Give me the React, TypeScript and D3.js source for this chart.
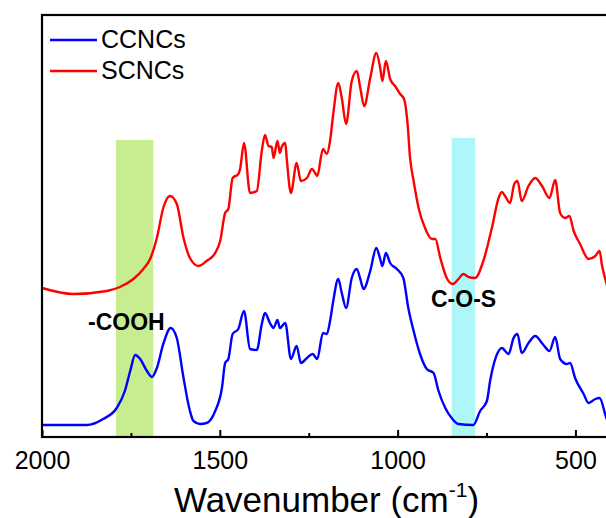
import React, { useEffect, useRef } from "react";
import * as d3 from "d3";

// FTIR spectra, wavenumber (cm-1) vs arbitrary intensity (offset stacked)
const ccncs: [number, number][] = [
  [2000, 12], [1874, 12], [1828, 18], [1790, 29], [1767, 46], [1752, 66], [1738, 82], [1724, 78],
  [1705, 66], [1691, 60], [1677, 69], [1659, 93], [1638, 109], [1621, 99], [1602, 59], [1584, 26],
  [1574, 16], [1556, 13], [1537, 14], [1513, 26], [1494, 49], [1485, 74], [1476, 78], [1464, 103],
  [1448, 108], [1432, 126], [1415, 88], [1396, 87], [1382, 113], [1373, 124], [1359, 114], [1349, 109],
  [1338, 117], [1331, 109], [1316, 114], [1300, 78], [1284, 91], [1272, 74], [1255, 79], [1239, 83],
  [1226, 78], [1210, 104], [1199, 103], [1190, 116], [1181, 136], [1167, 158], [1157, 144], [1145, 129],
  [1129, 159], [1115, 168], [1105, 158], [1096, 148], [1077, 166], [1060, 189], [1049, 178], [1043, 171],
  [1033, 184], [1021, 174], [1002, 168], [984, 159], [970, 129], [955, 106], [937, 83], [918, 68],
  [899, 64], [885, 46], [866, 29], [848, 19], [829, 13], [787, 12], [768, 26], [749, 36],
  [740, 56], [716, 86], [707, 89], [688, 83], [674, 99], [663, 103], [651, 84], [632, 94],
  [613, 101], [592, 93], [573, 86], [557, 100], [543, 78], [524, 73], [515, 74], [501, 59],
  [477, 43], [463, 34], [444, 38], [432, 39], [413, 19], [400, 10],
];

const scncs: [number, number][] = [
  [2000, 149], [1912, 143], [1818, 146], [1781, 150], [1743, 158], [1715, 168], [1696, 178], [1677, 199],
  [1659, 229], [1640, 241], [1621, 233], [1602, 199], [1584, 179], [1560, 171], [1537, 176], [1513, 184],
  [1499, 196], [1485, 224], [1476, 228], [1464, 259], [1448, 263], [1443, 268], [1432, 294], [1415, 244],
  [1396, 246], [1382, 286], [1373, 302], [1363, 291], [1354, 290], [1349, 279], [1338, 296], [1331, 284],
  [1326, 290], [1316, 294], [1312, 279], [1300, 244], [1284, 274], [1272, 256], [1255, 259], [1241, 268],
  [1232, 264], [1226, 261], [1210, 288], [1199, 283], [1190, 296], [1181, 323], [1167, 354], [1157, 339],
  [1145, 313], [1129, 356], [1115, 366], [1105, 349], [1094, 331], [1077, 359], [1060, 384], [1049, 369],
  [1043, 356], [1033, 376], [1021, 358], [1007, 351], [993, 343], [982, 338], [972, 313], [965, 279],
  [955, 256], [941, 229], [923, 209], [904, 198], [894, 198], [880, 179], [862, 159], [845, 153],
  [829, 158], [815, 163], [801, 160], [782, 159], [759, 176], [735, 209], [716, 239], [707, 245],
  [698, 241], [684, 234], [672, 253], [663, 256], [651, 236], [632, 251], [613, 259], [594, 251],
  [573, 239], [557, 257], [543, 224], [529, 219], [517, 221], [505, 206], [487, 193], [463, 178],
  [444, 181], [432, 186], [426, 173], [413, 154], [400, 141],
];

const seriesNames = ["CCNCs", "SCNCs"];
const majorTicks = [2000, 1500, 1000, 500];
const minorTicks = [1750, 1250, 750];

// highlighted bands: [from, to, top intensity]
const cooh: [number, number, number] = [1792, 1687, 297];
const cos: [number, number, number] = [848, 782, 299];
const annotations = ["-COOH", "C-O-S"];

const FONT = "Arial, 'Liberation Sans', Helvetica, sans-serif";

export default function App() {
  const ref = useRef<SVGSVGElement>(null);

  useEffect(() => {
    const svg = d3.select(ref.current);
    svg.selectAll("*").remove();

    const x = d3.scaleLinear().domain([2000, 400]).range([42, 611]);
    const y = d3.scaleLinear().domain([0, 422]).range([437, 15]);

    // bands
    const bands = [
      { b: cooh, fill: "#c8ec90" },
      { b: cos, fill: "#aff6f8" },
    ];
    bands.forEach(({ b, fill }) => {
      svg.append("rect")
        .attr("x", x(b[0]))
        .attr("y", y(b[2]))
        .attr("width", x(b[1]) - x(b[0]))
        .attr("height", y(0) - y(b[2]))
        .attr("fill", fill);
    });

    const line = d3.line<[number, number]>()
      .x(d => x(d[0]))
      .y(d => y(d[1]))
      .curve(d3.curveMonotoneX);

    svg.append("path").attr("d", line(scncs)).attr("fill", "none")
      .attr("stroke", "#ff0000").attr("stroke-width", 2.4).attr("stroke-linejoin", "round");
    svg.append("path").attr("d", line(ccncs)).attr("fill", "none")
      .attr("stroke", "#0000ff").attr("stroke-width", 2.4).attr("stroke-linejoin", "round");

    // frame
    svg.append("rect")
      .attr("x", x(2000)).attr("y", y(422))
      .attr("width", x(400) - x(2000)).attr("height", y(0) - y(422))
      .attr("fill", "none").attr("stroke", "#000").attr("stroke-width", 2.2);

    const ax = svg.append("g").attr("transform", `translate(0,${y(0)})`)
      .call(d3.axisBottom(x).tickValues(majorTicks).tickSize(-7).tickPadding(14).tickFormat(d3.format("d")));
    ax.select(".domain").remove();
    ax.attr("font-size", 25).attr("font-family", FONT);
    ax.selectAll("line").attr("stroke-width", 2);
    ax.selectAll("text").attr("fill", "#000");

    const axm = svg.append("g").attr("transform", `translate(0,${y(0)})`)
      .call(d3.axisBottom(x).tickValues(minorTicks).tickSize(-4).tickFormat(() => ""));
    axm.select(".domain").remove();
    axm.selectAll("line").attr("stroke-width", 2);

    // axis title
    const title = svg.append("text")
      .attr("x", (x(2000) + x(400)) / 2)
      .attr("y", 512)
      .attr("text-anchor", "middle")
      .attr("font-family", FONT)
      .attr("font-size", 35)
      .attr("fill", "#000");
    title.append("tspan").text("Wavenumber (cm");
    title.append("tspan").attr("font-size", 21).attr("dy", -15).text("-1");
    title.append("tspan").attr("dy", 15).text(")");

    // annotations
    svg.append("text").attr("x", 88).attr("y", 330)
      .attr("font-family", FONT).attr("font-weight", "bold").attr("font-size", 23)
      .text(annotations[0]);
    svg.append("text").attr("x", 431).attr("y", 307)
      .attr("font-family", FONT).attr("font-weight", "bold").attr("font-size", 23)
      .text(annotations[1]);

    // legend
    const legend = svg.append("g").attr("font-family", FONT).attr("font-size", 25);
    const colors = ["#0000ff", "#ff0000"];
    seriesNames.forEach((name, i) => {
      const ly = 40 + i * 31;
      legend.append("line").attr("x1", 50).attr("x2", 97).attr("y1", ly).attr("y2", ly)
        .attr("stroke", colors[i]).attr("stroke-width", 2.5);
      legend.append("text").attr("x", 101).attr("y", ly + 8).text(name);
    });
  }, []);

  return (
    <svg
      ref={ref}
      width={606}
      height={518}
      style={{ position: "absolute", left: 0, top: 0, background: "#fff" }}
    />
  );
}
